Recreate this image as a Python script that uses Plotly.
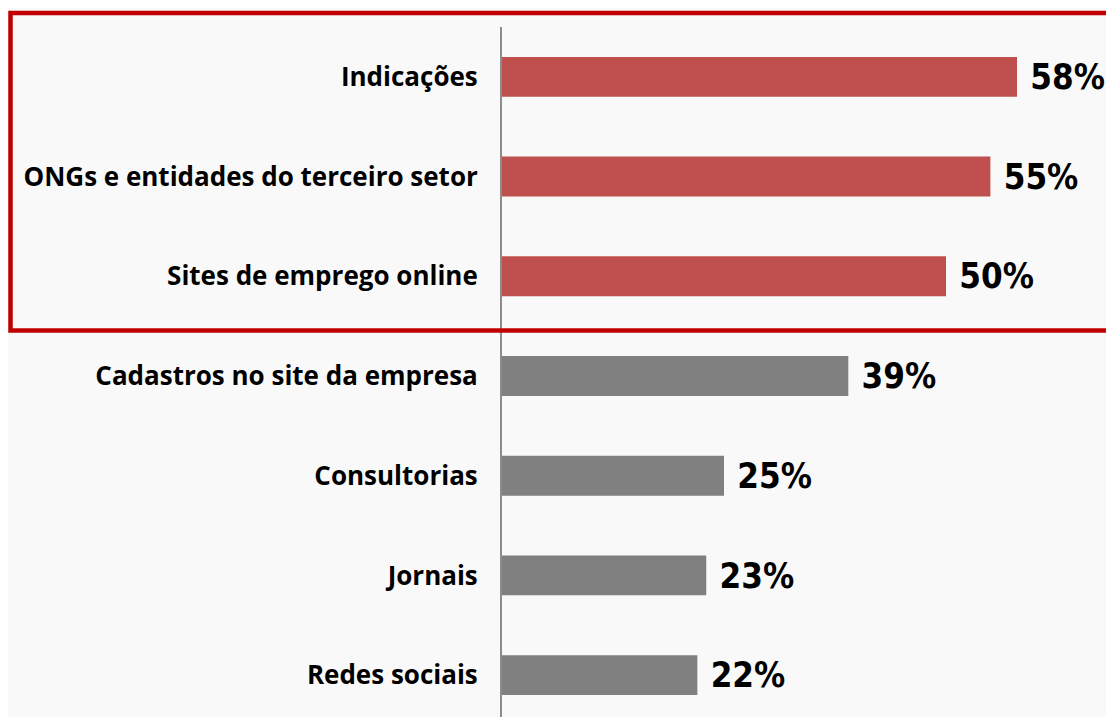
import plotly.graph_objects as go

categories = ["Indicações", "ONGs e entidades do terceiro setor", "Sites de emprego online",
              "Cadastros no site da empresa", "Consultorias", "Jornais", "Redes sociais"]
values = [58, 55, 50, 39, 25, 23, 22]
value_labels = ["58%", "55%", "50%", "39%", "25%", "23%", "22%"]
highlight = [True, True, True, False, False, False, False]

RED = "#C0504D"
GRAY = "#808080"
colors = [RED if h else GRAY for h in highlight]

fig = go.Figure()
fig.add_trace(go.Bar(
    y=categories, x=values, orientation="h",
    marker=dict(color=colors, line=dict(width=0)),
    width=0.4,
    text=["\u2004" + t for t in value_labels],
    textposition="outside",
    cliponaxis=False,
    textfont=dict(family="Liberation Sans Narrow, DejaVu Sans Condensed, sans-serif",
                  size=40, color="#000000", weight="bold"),
    hoverinfo="skip",
))

# page body has an 8px margin: figure origin sits at (8, 8) in the window
W, H = 1106, 709
L = 494
PW, PH = W - L, H - 19
fig.update_layout(
    width=W, height=H,
    margin=dict(l=L, r=0, t=19, b=0),
    paper_bgcolor="#f9f9f9",
    plot_bgcolor="rgba(0,0,0,0)",
    showlegend=False,
    xaxis=dict(range=[0, PW / 8.88], visible=False, fixedrange=True),
    yaxis=dict(
        categoryorder="array", categoryarray=categories,
        range=[6.42, -0.5],
        showline=True, linecolor="#8c8c8c", linewidth=2,
        showgrid=False, zeroline=False, ticks="",
        ticklabelstandoff=17,
        tickfont=dict(family="Open Sans, sans-serif", size=26, color="#000000", weight="bold"),
    ),
)

# red highlight frame around the top three categories
fig.add_shape(type="rect", xref="paper", yref="paper",
              x0=(2.5 - L) / PW, x1=(1125 - L) / PW,
              y0=(H - 322.5) / PH, y1=(H - 5) / PH,
              line=dict(color="#C00000", width=4.5), fillcolor="rgba(0,0,0,0)", layer="above")

fig.write_html("out.html")
